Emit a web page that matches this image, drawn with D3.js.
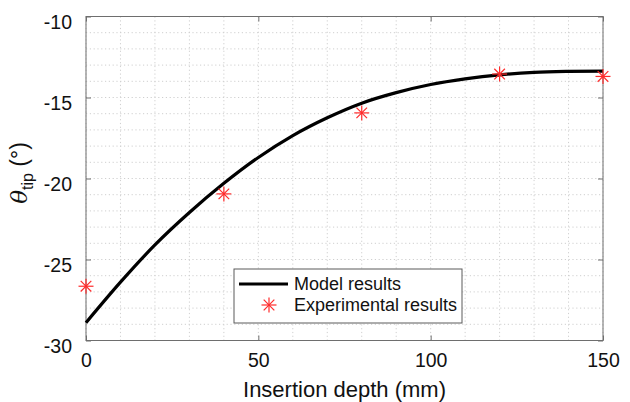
<!DOCTYPE html>
<html>
<head>
<meta charset="utf-8">
<script src="https://cdn.jsdelivr.net/npm/d3@7"></script>
<style>
  html, body { margin: 0; padding: 0; background: #fff; }
  svg { display: block; font-family: "Liberation Sans", Arial, Helvetica, sans-serif; }
</style>
</head>
<body>
<svg id="chart" width="630" height="402"></svg>
<script>
// Model prediction of tip angle vs insertion depth
const modelDepth = [0, 10, 20, 30, 40, 50, 60, 70, 80, 90, 100, 110, 120, 130, 140, 150];
const modelTheta = [-28.9, -26.4, -24.1, -22.1, -20.3, -18.7, -17.35, -16.25, -15.35, -14.7, -14.2, -13.85, -13.6, -13.45, -13.39, -13.37];

// Measured tip angles
const expDepth = [0, 40, 80, 120, 150];
const expTheta = [-26.65, -20.95, -15.95, -13.55, -13.7];

const xTicks = [0, 50, 100, 150];
const yTicks = [-30, -25, -20, -15, -10];
const xMinor = d3.range(0, 151, 10);
const yMinor = d3.range(-30, -9, 1);

const svg = d3.select("#chart");
const plotL = 86, plotR = 603, plotT = 16.5, plotB = 340.5;

const x = d3.scaleLinear().domain([0, 150]).range([plotL, plotR]);
const y = d3.scaleLinear().domain([-30, -10]).range([plotB, plotT]);

// plain hyphen-minus for negative tick labels
const fmt = d => String(d);

// dotted grid
const grid = svg.append("g").attr("stroke", "#cfcfcf").attr("stroke-width", 1).attr("stroke-dasharray", "1.2,2.6");
grid.selectAll("line.v").data(xMinor).join("line").attr("class", "v")
  .attr("x1", d => x(d)).attr("x2", d => x(d)).attr("y1", plotT).attr("y2", plotB);
grid.selectAll("line.h").data(yMinor).join("line").attr("class", "h")
  .attr("y1", d => y(d)).attr("y2", d => y(d)).attr("x1", plotL).attr("x2", plotR);

// axes with inward ticks on all sides
const axisColor = "#6e6e6e";
function styleAxis(g) {
  g.select(".domain").remove();
  g.selectAll(".tick line").attr("stroke", axisColor);
  g.selectAll(".tick text").attr("fill", "#111").style("font-size", "19.5px");
}
svg.append("g").attr("transform", `translate(0,${plotB})`)
  .call(d3.axisBottom(x).tickValues(xTicks).tickSizeInner(-5).tickSizeOuter(0).tickPadding(13).tickFormat(fmt))
  .call(styleAxis);
svg.append("g").attr("transform", `translate(0,${plotT})`)
  .call(d3.axisTop(x).tickValues(xTicks).tickSizeInner(-5).tickSizeOuter(0).tickFormat(""))
  .call(styleAxis);
svg.append("g").attr("transform", `translate(${plotL},0)`)
  .call(d3.axisLeft(y).tickValues(yTicks).tickSizeInner(-5).tickSizeOuter(0).tickPadding(14).tickFormat(fmt))
  .call(styleAxis)
  .selectAll(".tick text").attr("dy", "0.62em");
svg.append("g").attr("transform", `translate(${plotR},0)`)
  .call(d3.axisRight(y).tickValues(yTicks).tickSizeInner(-5).tickSizeOuter(0).tickFormat(""))
  .call(styleAxis);

svg.append("rect").attr("x", plotL).attr("y", plotT)
  .attr("width", plotR - plotL).attr("height", plotB - plotT)
  .attr("fill", "none").attr("stroke", axisColor).attr("stroke-width", 1);

// model curve
const line = d3.line().x((d, i) => x(modelDepth[i])).y(d => y(d)).curve(d3.curveMonotoneX);
svg.append("path").datum(modelTheta).attr("d", line)
  .attr("fill", "none").attr("stroke", "#000").attr("stroke-width", 3.2);

// asterisk marker
function star(g, cx, cy, r) {
  const s = g.append("g").attr("transform", `translate(${cx},${cy})`)
    .attr("stroke", "#ff2b2b").attr("stroke-width", 1.2);
  [0, 45, 90, 135].forEach(a => {
    const t = a * Math.PI / 180;
    s.append("line").attr("x1", -r * Math.cos(t)).attr("y1", -r * Math.sin(t))
      .attr("x2", r * Math.cos(t)).attr("y2", r * Math.sin(t));
  });
}
const pts = svg.append("g");
expDepth.forEach((d, i) => star(pts, x(d), y(expTheta[i]), 7.5));

// legend
const lg = svg.append("g");
lg.append("rect").attr("x", 234).attr("y", 269).attr("width", 228).attr("height", 54)
  .attr("fill", "#fff").attr("stroke", "#5a5a5a").attr("stroke-width", 1);
lg.append("line").attr("x1", 239).attr("x2", 288).attr("y1", 284).attr("y2", 284)
  .attr("stroke", "#000").attr("stroke-width", 3.2);
lg.append("text").attr("x", 294).attr("y", 284).attr("dy", "0.36em")
  .style("font-size", "18px").attr("fill", "#111").text("Model results");
star(lg, 269, 305, 7.5);
lg.append("text").attr("x", 294).attr("y", 305).attr("dy", "0.36em")
  .style("font-size", "18px").attr("fill", "#111").text("Experimental results");

// axis titles
svg.append("text").attr("x", (plotL + plotR) / 2).attr("y", 397)
  .attr("text-anchor", "middle").style("font-size", "22px").attr("fill", "#111")
  .text("Insertion depth (mm)");

const yl = svg.append("text").attr("transform", "translate(27,173) rotate(-90)")
  .attr("text-anchor", "middle").style("font-size", "23px").attr("fill", "#111");
yl.append("tspan").style("font-style", "italic").style("font-family", "'DejaVu Serif', serif").text("θ");
yl.append("tspan").attr("dy", 6).style("font-size", "16px").text("tip");
yl.append("tspan").attr("dy", -6).text(" (°)");
</script>
</body>
</html>
